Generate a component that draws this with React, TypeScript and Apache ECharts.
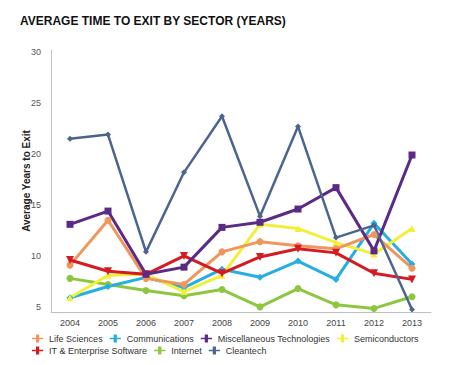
import React, { useEffect, useRef } from "react";
import * as echarts from "echarts";

const years = ["2004", "2005", "2006", "2007", "2008", "2009", "2010", "2011", "2012", "2013"];
const yTickLabels = [5, 10, 15, 20, 25, 30];

const lifeSciences = [9.1, 13.5, 7.8, 7.2, 10.4, 11.4, 11.0, 10.7, 12.1, 8.8];
const communications = [5.9, 7.0, 7.9, 6.9, 8.7, 7.9, 9.5, 7.7, 13.2, 9.2];
const miscTech = [13.1, 14.4, 8.2, 8.9, 12.8, 13.3, 14.6, 16.7, 10.5, 19.9];
const semiconductors = [5.9, 8.1, 8.2, 6.5, 8.1, 13.1, 12.7, 11.3, 10.2, 12.7];
const itSoftware = [9.6, 8.5, 8.2, 10.0, 8.3, 9.9, 10.7, 10.3, 8.3, 7.7];
const internet = [7.8, 7.2, 6.6, 6.1, 6.7, 5.0, 6.8, 5.2, 4.85, 6.0];
const cleantech = [21.5, 21.9, 10.4, 18.2, 23.7, 13.9, 22.7, 11.8, 13.0, 4.75];

const FONT = "Arial";

export default function App() {
  const ref = useRef<HTMLDivElement>(null);
  useEffect(() => {
    if (!ref.current) return;
    const chart = echarts.init(ref.current, undefined, { renderer: "svg" });
    const mk = (name: string, data: number[], color: string, symbol: string, size: number, width = 3) => ({
      name,
      type: "line",
      data,
      symbol,
      symbolSize: size,
      clip: false,
      lineStyle: { color, width },
      itemStyle: { color },
    });
    const legendCommon = {
      icon: "path://M0,4 L5,4 L5,0 L9,0 L9,4 L14,4 L14,6 L9,6 L9,10 L5,10 L5,6 L0,6 Z",
      itemWidth: 13,
      itemHeight: 8,
      itemGap: 7,
      width: 430,
      orient: "horizontal",
      textStyle: { fontFamily: FONT, fontSize: 9, color: "#333" },
      padding: 0,
      selectedMode: false,
    };
    chart.setOption({
      animation: false,
      backgroundColor: "#fff",
      title: {
        text: "AVERAGE TIME TO EXIT BY SECTOR (YEARS)",
        left: 15,
        top: 10,
        textStyle: { fontFamily: FONT, fontWeight: "bold", fontSize: 12, color: "#111" },
      },
      grid: { left: 51, right: 18, top: 50, bottom: 53 },
      legend: [
        {
          ...legendCommon,
          left: 32,
          top: 334,
          data: ["Life Sciences", "Communications", "Miscellaneous Technologies", "Semiconductors"],
        },
        {
          ...legendCommon,
          left: 32,
          top: 346,
          data: ["IT & Enterprise Software", "Internet", "Cleantech"],
        },
      ],
      xAxis: {
        type: "category",
        data: years,
        boundaryGap: true,
        axisLine: { lineStyle: { color: "#c0c0c0", width: 1 } },
        axisTick: { show: false },
        axisLabel: { fontFamily: FONT, fontSize: 9, color: "#444", margin: 6 },
      },
      yAxis: {
        type: "value",
        min: 4.5,
        max: 30.2,
        name: "Average Years to Exit",
        nameLocation: "middle",
        nameGap: 20,
        nameMoveOverlap: false,
        nameTextStyle: { fontFamily: FONT, fontWeight: "bold", fontSize: 10, color: "#222" },
        axisLine: { show: true, lineStyle: { color: "#c0c0c0", width: 1 } },
        axisTick: { show: false },
        splitLine: { show: false },
        axisLabel: {
          customValues: yTickLabels,
          fontFamily: FONT,
          fontSize: 9,
          color: "#555",
          margin: 10,
        },
      },
      series: [
        mk("Internet", internet, "#8dc63f", "circle", 7),
        mk("Communications", communications, "#25aee2", "diamond", 7),
        mk("Semiconductors", semiconductors, "#f2ef3b", "triangle", 7),
        mk("Life Sciences", lifeSciences, "#f0965c", "circle", 7),
        mk("IT & Enterprise Software", itSoftware, "#d51a22", "path://M0,0 L10,0 L5,9 Z", 8),
        mk("Miscellaneous Technologies", miscTech, "#5b2a86", "rect", 7),
        mk("Cleantech", cleantech, "#4b6590", "diamond", 6, 2.5),
      ],
    });
    return () => chart.dispose();
  }, []);
  return <div ref={ref} style={{ width: 449, height: 365, position: "absolute", left: 0, top: 0 }} />;
}
